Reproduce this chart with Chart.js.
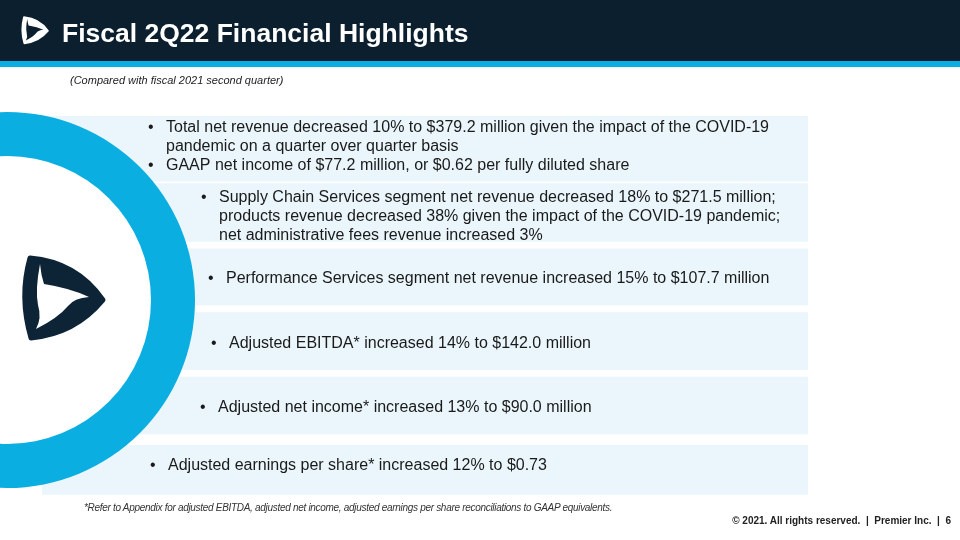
<!DOCTYPE html>
<html>
<head>
<meta charset="utf-8">
<script src="https://cdn.jsdelivr.net/npm/chart.js@4.4.0/dist/chart.umd.min.js"></script>
<style>
  body { margin: 0; width: 960px; height: 540px; position: relative; overflow: hidden; background: #fff;
         font-family: 'Liberation Sans', Arial, sans-serif; }
  .abs { position: absolute; white-space: nowrap; }
  #hdr { left: 0; top: 0; width: 960px; height: 61px; background: #0b1f2f; }
  #stripe { left: 0; top: 61px; width: 960px; height: 6px; background: #0aaee0; }
  #c { position: absolute; left: 0; top: 0; }
  #title { left: 62px; top: 15px; font-size: 26.5px; line-height: 36px; font-weight: bold; color: #fff; }
  #sub { left: 70px; top: 73px; font-size: 11px; line-height: 14px; font-style: italic; color: #222; }
  #note { left: 84px; top: 502px; font-size: 10px; line-height: 12px; font-style: italic; color: #333; letter-spacing: -0.3px; }
  #copy { right: 9px; top: 515px; font-size: 10px; line-height: 12px; font-weight: bold; color: #222; }
</style>
</head>
<body>
<div id="hdr" class="abs"></div>
<div id="stripe" class="abs"></div>
<canvas id="c" width="960" height="540"></canvas>
<div id="title" class="abs">Fiscal 2Q22 Financial Highlights</div>
<div id="sub" class="abs">(Compared with fiscal 2021 second quarter)</div>
<div id="note" class="abs">*Refer to Appendix for adjusted EBITDA, adjusted net income, adjusted earnings per share reconciliations to GAAP equivalents.</div>
<div id="copy" class="abs">© 2021. All rights reserved. &nbsp;|&nbsp; Premier Inc. &nbsp;|&nbsp; 6</div>
<script>
const categories = ['Revenue & GAAP income', 'Supply Chain Services', 'Performance Services',
  'Adjusted EBITDA', 'Adjusted net income', 'Adjusted EPS'];

// each panel: list of bullets, each bullet: list of lines
const panelBullets = [
  [['Total net revenue decreased 10% to $379.2 million given the impact of the COVID-19',
    'pandemic on a quarter over quarter basis'],
   ['GAAP net income of $77.2 million, or $0.62 per fully diluted share']],
  [['Supply Chain Services segment net revenue decreased 18% to $271.5 million;',
    'products revenue decreased 38% given the impact of the COVID-19 pandemic;',
    'net administrative fees revenue increased 3%']],
  [['Performance Services segment net revenue increased 15% to $107.7 million']],
  [['Adjusted EBITDA* increased 14% to $142.0 million']],
  [['Adjusted net income* increased 13% to $90.0 million']],
  [['Adjusted earnings per share* increased 12% to $0.73']],
];

const panelValues = [1, 1, 1, 1, 1, 1];

// layout / style
const panelColor = '#eaf6fb';
const ringColor = '#0aaee0';
const navy = '#0d2436';
const panelThickness = [66, 58, 56, 57, 57, 49];
const textX = [166, 219, 226, 229, 218, 168];
const textDy = [-2, 4, 2, 2, 2, -4];
const lineH = 19;

function logoPath(ctx, ox, oy, s, fg, bg) {
  ctx.save();
  ctx.translate(ox, oy);
  ctx.scale(s, s);
  ctx.beginPath();
  ctx.moveTo(9, 3);
  ctx.quadraticCurveTo(56, 7, 82, 45);
  ctx.quadraticCurveTo(54, 79, 10, 83);
  ctx.quadraticCurveTo(-2, 42, 9, 3);
  ctx.closePath();
  ctx.fillStyle = fg;
  ctx.strokeStyle = fg;
  ctx.lineJoin = 'round';
  ctx.lineWidth = 5;
  ctx.fill();
  ctx.stroke();
  // inner swirl
  ctx.beginPath();
  ctx.moveTo(19, 9);
  ctx.quadraticCurveTo(14, 35, 17, 50);
  ctx.quadraticCurveTo(21, 63, 15, 74);
  ctx.quadraticCurveTo(37, 63, 47, 51);
  ctx.quadraticCurveTo(53, 43, 68, 42);
  ctx.quadraticCurveTo(49, 33, 23, 29);
  ctx.quadraticCurveTo(20, 20, 19, 9);
  ctx.closePath();
  ctx.fillStyle = bg;
  ctx.fill();
  ctx.restore();
}

const ringPlugin = {
  id: 'ring',
  afterDatasetsDraw(chart) {
    const ctx = chart.ctx;
    ctx.save();
    ctx.beginPath();
    ctx.arc(7, 300, 188, 0, Math.PI * 2);
    ctx.fillStyle = ringColor;
    ctx.fill();
    ctx.beginPath();
    ctx.arc(7, 300, 144, 0, Math.PI * 2);
    ctx.fillStyle = '#fff';
    ctx.fill();
    ctx.restore();
    logoPath(ctx, 21, 255, 1, navy, '#fff');
    logoPath(ctx, 21, 16, 0.33, '#fff', '#0b1f2f');
  }
};

const textPlugin = {
  id: 'panelText',
  afterDatasetsDraw(chart) {
    const ctx = chart.ctx;
    ctx.save();
    ctx.font = '16px "Liberation Sans", Arial, sans-serif';
    ctx.fillStyle = '#1a1a1a';
    ctx.textBaseline = 'middle';
    panelBullets.forEach((bullets, i) => {
      const el = chart.getDatasetMeta(i).data[i];
      const n = bullets.reduce((a, b) => a + b.length, 0);
      let y = el.y - (n - 1) * lineH / 2 + textDy[i];
      bullets.forEach(lines => {
        ctx.fillText('•', textX[i] - 18, y);
        lines.forEach(line => {
          ctx.fillText(line, textX[i], y);
          y += lineH;
        });
      });
    });
    ctx.restore();
  }
};

const datasets = categories.map((c, i) => ({
  label: c,
  data: panelValues.map((v, j) => (j === i ? v : null)),
  backgroundColor: panelColor,
  borderWidth: 0,
  barThickness: panelThickness[i],
  grouped: false,
}));

new Chart(document.getElementById('c'), {
  type: 'bar',
  data: { labels: categories, datasets },
  options: {
    indexAxis: 'y',
    responsive: false,
    animation: false,
    events: [],
    layout: { padding: { left: 42, right: 152, top: 116, bottom: 38 } },
    plugins: { legend: { display: false }, tooltip: { enabled: false } },
    scales: {
      x: { display: false, min: 0, max: 1 },
      y: { display: false, offset: true },
    },
  },
  plugins: [ringPlugin, textPlugin],
});
</script>
</body>
</html>
